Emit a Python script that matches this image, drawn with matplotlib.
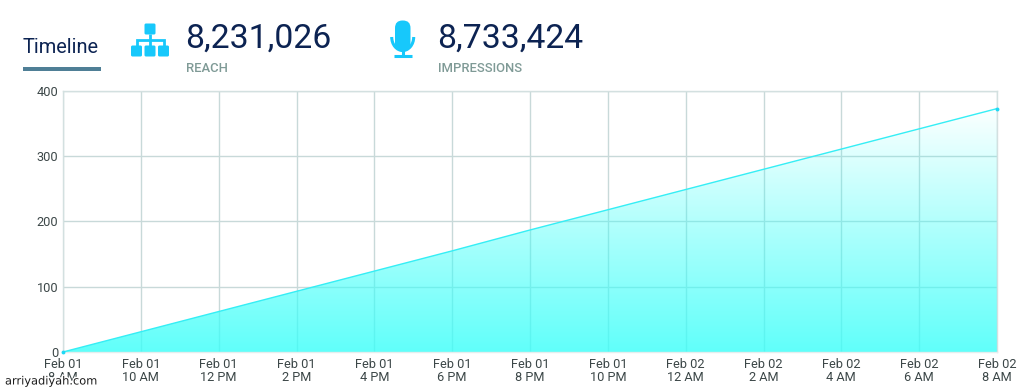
import matplotlib
matplotlib.use('Agg')
import matplotlib.pyplot as plt
import matplotlib.patches as mpatches
import matplotlib.patheffects as pe
import numpy as np

plt.rcParams['font.family'] = ['Roboto', 'DejaVu Sans']

# Dane
godziny = [0, 2, 4, 6, 8, 10, 12, 14, 16, 18, 20, 22, 24]
wartosci = [0, 31, 62, 93, 124, 155, 187, 218, 249, 280, 311, 342, 373]
etykiety_x = ['Feb 01\n8 AM', 'Feb 01\n10 AM', 'Feb 01\n12 PM', 'Feb 01\n2 PM',
              'Feb 01\n4 PM', 'Feb 01\n6 PM', 'Feb 01\n8 PM', 'Feb 01\n10 PM',
              'Feb 02\n12 AM', 'Feb 02\n2 AM', 'Feb 02\n4 AM', 'Feb 02\n6 AM',
              'Feb 02\n8 AM']
etykiety_y = [0, 100, 200, 300, 400]

SZER, WYS = 1024, 391
KOLOR_LINII = '#35eef5'
KOLOR_SIATKI = '#c8d9d9'
KOLOR_IKONY = '#17c8fb'
GRANAT = '#0c2352'

fig = plt.figure(figsize=(SZER / 100, WYS / 100), dpi=100, facecolor='white')
ax = fig.add_axes([63 / SZER, 1 - 352 / WYS, (997 - 63) / SZER, (352 - 91) / WYS])

# gradient pod linia, polprzezroczysty - siatka przeswituje
gradient = np.zeros((256, 2, 4))
gradient[..., 0] = 0.22
gradient[..., 1] = 1.0
gradient[..., 2] = 0.98
gradient[..., 3] = np.linspace(0.8, 0.02, 256)[:, None]
obraz = ax.imshow(gradient, origin='lower', aspect='auto', zorder=1.5,
                  extent=[godziny[0], godziny[-1], 0, max(wartosci)])
wielokat = ax.fill_between(godziny, wartosci, 0, color='none')
obraz.set_clip_path(wielokat.get_paths()[0], ax.transData)

ax.plot(godziny, wartosci, color=KOLOR_LINII, lw=1.0, zorder=3)
ax.plot([godziny[0], godziny[-1]], [wartosci[0], wartosci[-1]], 'o',
        color='#20d8f5', ms=2.8, mew=0, zorder=4, clip_on=False)

ax.set_xlim(godziny[0], godziny[-1])
ax.set_ylim(0, 400)
ax.set_xticks(godziny)
ax.set_xticklabels(etykiety_x, linespacing=1.0)
ax.set_yticks(etykiety_y)
ax.set_axisbelow(True)
ax.grid(True, color=KOLOR_SIATKI, lw=1.0)
ax.tick_params(length=0, labelsize=9.2, labelcolor='#3c4748')
ax.tick_params(axis='x', pad=4)
ax.tick_params(axis='y', pad=3.5)
for s in ax.spines.values():
    s.set_color('#d3e0e0')
    s.set_linewidth(1.0)
ax.spines['bottom'].set_color('#e4eeee')

# naglowek - warstwa w pikselach
nak = fig.add_axes([0, 0, 1, 1], facecolor='none')
nak.set_xlim(0, SZER)
nak.set_ylim(WYS, 0)
nak.axis('off')

nak.text(22.5, 47.5, 'Timeline', fontsize=14.4, color=GRANAT, va='center', ha='left')
nak.add_patch(mpatches.Rectangle((22.5, 67), 78, 4, color='#4f7f96', lw=0))

nak.text(185.5, 39, '8,231,026', fontsize=24.3, color=GRANAT, va='center', ha='left')
nak.text(186, 68.5, 'REACH', fontsize=9.4, fontweight='medium', color='#7f9a96', va='center', ha='left')
nak.text(437.5, 39, '8,733,424', fontsize=24.3, color=GRANAT, va='center', ha='left')
nak.text(438, 68.5, 'IMPRESSIONS', fontsize=9.4, fontweight='medium', color='#7f9a96', va='center', ha='left')


def prost(x, y, w, h, r=1.5):
    nak.add_patch(mpatches.FancyBboxPatch((x + r, y + r), w - 2 * r, h - 2 * r,
                                          boxstyle='round,pad=%g,rounding_size=%g' % (r, r),
                                          fc=KOLOR_IKONY, ec='none'))


# ikona schematu
prost(144.5, 23.5, 11, 11)
for x0 in [131, 144.5, 158]:
    prost(x0, 45.5, 11, 11)
nak.plot([150, 150], [34, 46], color=KOLOR_IKONY, lw=2.0, solid_capstyle='butt')
nak.plot([136.5, 136.5, 163.5, 163.5], [46, 40, 40, 46], color=KOLOR_IKONY, lw=2.0,
         solid_joinstyle='miter', solid_capstyle='butt')

# ikona mikrofonu
prost(395, 20.5, 15.5, 31, r=7.5)
nak.add_patch(mpatches.Arc((402.7, 37), 22, 27, theta1=0, theta2=180, color=KOLOR_IKONY, lw=2.2))
nak.plot([402.7, 402.7], [50, 55], color=KOLOR_IKONY, lw=2.2, solid_capstyle='butt')
nak.plot([394, 411.5], [55.5, 55.5], color=KOLOR_IKONY, lw=2.2, solid_capstyle='butt')

# znak wodny
nak.text(5, 381.5, 'arriyadiyah.com', fontsize=8.2, color='#1c1c1c', va='center', ha='left',
         family='DejaVu Sans',
         path_effects=[pe.withStroke(linewidth=2, foreground='white')])

fig.savefig('out.png', dpi=100)
